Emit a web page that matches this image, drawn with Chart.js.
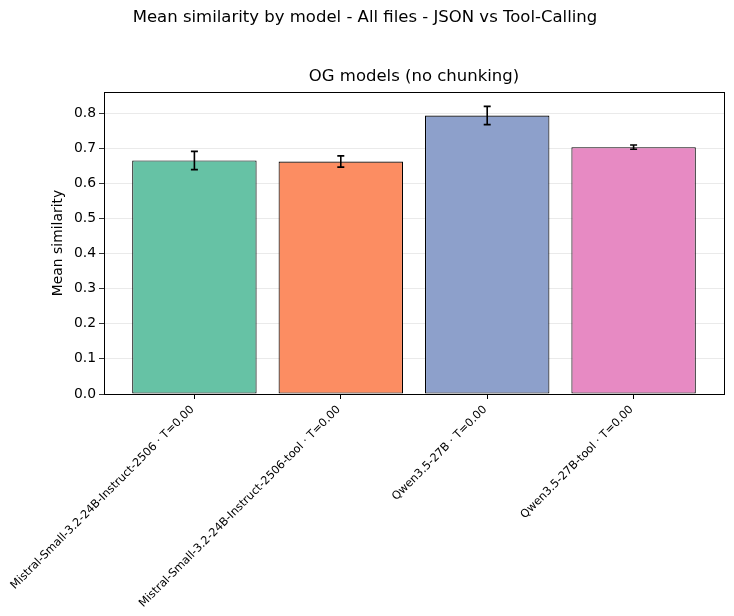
<!DOCTYPE html>
<html>
<head>
<meta charset="utf-8">
<script src="https://cdn.jsdelivr.net/npm/chart.js@4/dist/chart.umd.min.js"></script>
<style>
  html, body { margin: 0; padding: 0; background: #fff; }
  #wrap { position: relative; width: 734px; height: 616px; }
</style>
</head>
<body>
<div id="wrap"><canvas id="c" width="734" height="616"></canvas></div>
<script>
const categories = [
  "Mistral-Small-3.2-24B-Instruct-2506 · T=0.00",
  "Mistral-Small-3.2-24B-Instruct-2506-tool · T=0.00",
  "Qwen3.5-27B · T=0.00",
  "Qwen3.5-27B-tool · T=0.00"
];
const meanSimilarity = [0.665, 0.662, 0.793, 0.703];
const errorValues = [0.026, 0.016, 0.026, 0.006];
const barColors = ["#66c2a5", "#fc8d62", "#8da0cb", "#e78ac3"];
const yTicks = [0.0, 0.1, 0.2, 0.3, 0.4, 0.5, 0.6, 0.7, 0.8];
const mainTitle = "Mean similarity by model - All files - JSON vs Tool-Calling";
const subTitle = "OG models (no chunking)";
const yAxisTitle = "Mean similarity";

const FONT = "'DejaVu Sans', sans-serif";

const decorPlugin = {
  id: 'decor',
  afterDatasetsDraw(chart) {
    const ctx = chart.ctx;
    const x = chart.scales.x, y = chart.scales.y;
    ctx.save();
    // error bars
    ctx.strokeStyle = '#000';
    ctx.lineWidth = 1.6;
    meanSimilarity.forEach((v, i) => {
      const px = x.getPixelForValue(i);
      const top = y.getPixelForValue(v + errorValues[i]);
      const bot = y.getPixelForValue(v - errorValues[i]);
      ctx.beginPath();
      ctx.moveTo(px, top); ctx.lineTo(px, bot);
      ctx.moveTo(px - 3.5, top); ctx.lineTo(px + 3.5, top);
      ctx.moveTo(px - 3.5, bot); ctx.lineTo(px + 3.5, bot);
      ctx.stroke();
    });
    // frame
    const a = chart.chartArea;
    ctx.lineWidth = 1;
    ctx.strokeStyle = '#000';
    ctx.strokeRect(Math.round(a.left) + 0.5, Math.round(a.top) + 0.5,
                   Math.round(a.right - a.left), Math.round(a.bottom - a.top));
    // titles
    ctx.fillStyle = '#000';
    ctx.textAlign = 'center';
    ctx.textBaseline = 'middle';
    ctx.font = "16.5px " + FONT;
    ctx.fillText(mainTitle, 365, 18);
    ctx.fillText(subTitle, (a.left + a.right) / 2, 77);
    ctx.restore();
  }
};

new Chart(document.getElementById('c'), {
  type: 'bar',
  data: {
    datasets: [{
      data: meanSimilarity.map((v, i) => ({ x: i, y: v })),
      backgroundColor: barColors,
      borderColor: '#000',
      borderWidth: 1.1,
      borderSkipped: false,
      barPercentage: 0.85,
      categoryPercentage: 1.0
    }]
  },
  options: {
    responsive: false,
    animation: false,
    devicePixelRatio: 1,
    layout: { padding: { top: 92, right: 10, left: 0, bottom: 0 } },
    plugins: { legend: { display: false }, tooltip: { enabled: false }, title: { display: false } },
    scales: {
      x: {
        type: 'linear',
        min: -0.6175,
        max: 3.6175,
        offset: false,
        afterBuildTicks: (s) => { s.ticks = categories.map((_, i) => ({ value: i })); },
        afterFit: (s) => { s.height = 222; s.paddingLeft = 0; s.paddingRight = 0; },
        ticks: {
          autoSkip: false,
          minRotation: 45,
          maxRotation: 45,
          padding: 4,
          labelOffset: -2,
          color: '#000',
          font: { family: FONT, size: 11.3 },
          callback: (v) => categories[v]
        },
        grid: { offset: false, drawOnChartArea: false, color: 'rgba(0,0,0,0)', tickColor: '#000', tickLength: 5, lineWidth: 1 },
        border: { display: false }
      },
      y: {
        min: 0,
        max: 0.86,
        afterBuildTicks: (s) => { s.ticks = yTicks.map(v => ({ value: v })); },
        afterFit: (s) => { s.width = 104; },
        ticks: {
          color: '#000',
          padding: 3,
          font: { family: FONT, size: 13.9 },
          callback: (v) => Number(v).toFixed(1)
        },
        grid: { color: '#e5e5e5', lineWidth: 0.8, tickColor: '#000', tickLength: 5 },
        border: { display: false },
        title: {
          display: true,
          text: yAxisTitle,
          color: '#000',
          font: { family: FONT, size: 13.9 },
          padding: { top: 50, bottom: 0 }
        }
      }
    }
  },
  plugins: [decorPlugin]
});
</script>
</body>
</html>
